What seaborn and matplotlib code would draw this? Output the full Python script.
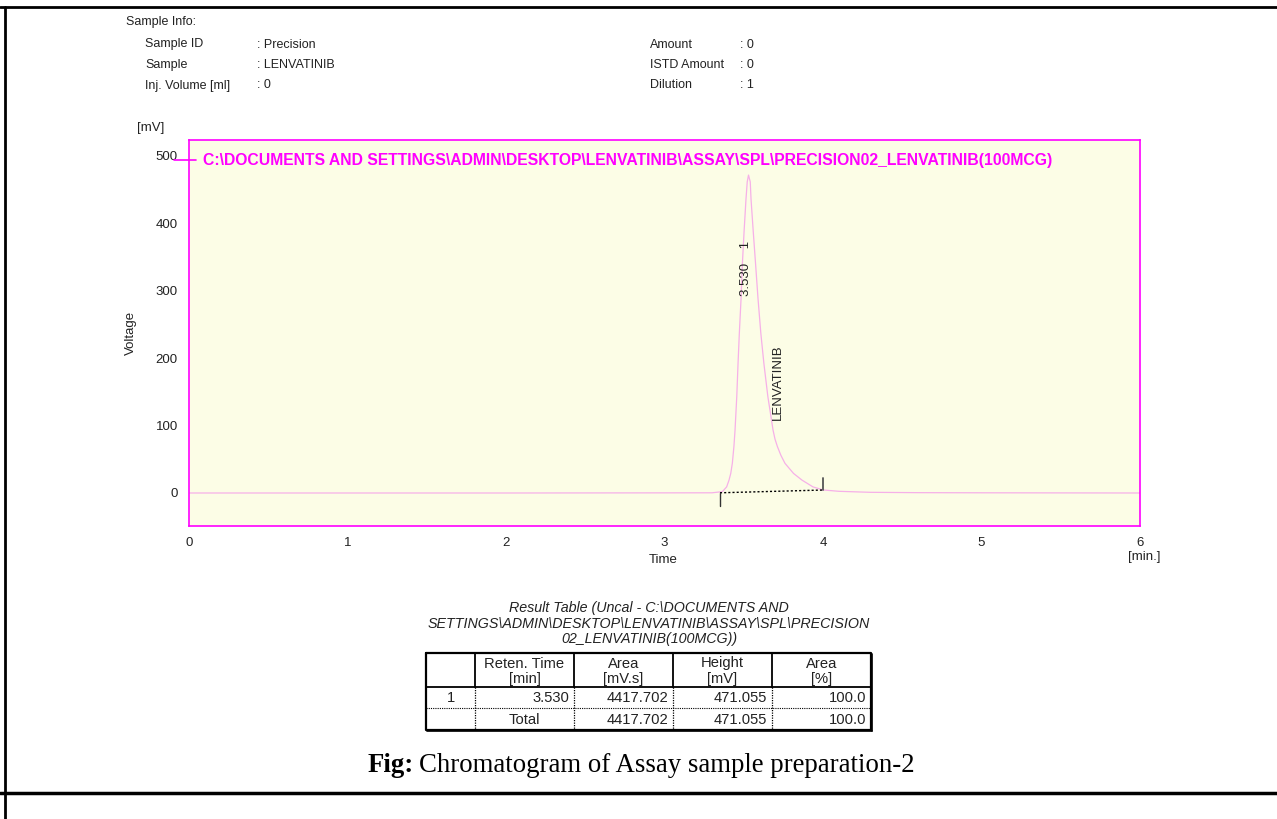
import matplotlib
matplotlib.use("Agg")
import matplotlib.pyplot as plt
from matplotlib.lines import Line2D
import pandas as pd
import seaborn as sns

# ---- chromatogram trace (time in min, signal in mV) ----
trace_time = [0.00, 1.00, 2.00, 3.00, 3.30, 3.365, 3.392, 3.407, 3.418, 3.428,
              3.438, 3.445, 3.456, 3.464, 3.472, 3.483, 3.491, 3.502, 3.514,
              3.522, 3.530, 3.541, 3.546, 3.560, 3.575, 3.590, 3.608, 3.627,
              3.652, 3.685, 3.697, 3.712, 3.734, 3.760, 3.814, 3.868, 3.937,
              4.002, 4.10, 4.30, 4.60, 5.00, 6.00]
trace_mv = [0.0, 0.0, 0.0, 0.2, 0.3, 2.0, 9.0, 19.0, 29.0, 44.0,
            69.0, 93.0, 143.0, 192.0, 236.0, 288.0, 338.0, 387.0, 435.0,
            461.0, 471.055, 461.0, 435.0, 387.0, 338.0, 288.0, 236.0, 192.0,
            143.0, 93.0, 80.0, 69.0, 56.0, 44.0, 29.0, 19.0, 9.0,
            4.5, 2.5, 1.0, 0.5, 0.3, 0.0]

# integration baseline of the peak (start, end)
base_time = [3.350, 4.002]
base_mv = [0.3, 4.4]

peak_rt = 3.530
peak_area = 4417.702
peak_height = 471.055
peak_area_pct = 100.0
peak_name = "LENVATINIB"
peak_number = "1"

x_ticks = [0, 1, 2, 3, 4, 5, 6]
y_ticks = [0, 100, 200, 300, 400, 500]

title_path = ("C:\\DOCUMENTS AND SETTINGS\\ADMIN\\DESKTOP\\LENVATINIB\\ASSAY\\SPL"
              "\\PRECISION02_LENVATINIB(100MCG)")

info_left_keys = ["Sample ID", "Sample", "Inj. Volume [ml]"]
info_left_vals = [": Precision", ": LENVATINIB", ": 0"]
info_right_keys = ["Amount", "ISTD Amount", "Dilution"]
info_right_vals = [": 0", ": 0", ": 1"]

table_title = ["Result Table (Uncal - C:\\DOCUMENTS AND",
               "SETTINGS\\ADMIN\\DESKTOP\\LENVATINIB\\ASSAY\\SPL\\PRECISION",
               "02_LENVATINIB(100MCG))"]
table_headers = ["", "Reten. Time\n[min]", "Area\n[mV.s]", "Height\n[mV]", "Area\n[%]"]

caption_bold = "Fig:"
caption_text = "Chromatogram of Assay sample preparation-2"

# ---- styling ----
sns.set_style("white")
plt.rcParams["font.family"] = ["Liberation Sans", "DejaVu Sans"]

MAGENTA = "#ff00ff"
TRACE = "#f6b0e8"
FACE = "#fcfde6"
TXT = "#222222"

W, H = 1277, 819
fig = plt.figure(figsize=(W / 100, H / 100), dpi=100)
fig.patch.set_facecolor("white")


def fx(x):
    return x / W


def fy(y):
    return 1 - y / H


def ftext(x, y, s, **kw):
    return fig.text(fx(x), fy(y), s, transform=fig.transFigure, **kw)


def fline(xs, ys, **kw):
    fig.add_artist(Line2D([fx(v) for v in xs], [fy(v) for v in ys],
                          transform=fig.transFigure, **kw))


# ---- page frame ----
fline([0, W], [7, 7], color="black", lw=2.0)
fline([5, 5], [7, H], color="black", lw=2.0)
fline([0, W], [793, 793], color="black", lw=2.5)

# ---- sample info header (baseline-aligned rows) ----
ftext(126, 24.5, "Sample Info:", fontsize=9, va="baseline", color=TXT)
for i, (k, v) in enumerate(zip(info_left_keys, info_left_vals)):
    ftext(145, 47.5 + 20.5 * i, k, fontsize=9, va="baseline", color=TXT)
    ftext(257, 47.5 + 20.5 * i, v, fontsize=9, va="baseline", color=TXT)
for i, (k, v) in enumerate(zip(info_right_keys, info_right_vals)):
    ftext(650, 47.5 + 20.5 * i, k, fontsize=9, va="baseline", color=TXT)
    ftext(740, 47.5 + 20.5 * i, v, fontsize=9, va="baseline", color=TXT)

# ---- chromatogram axes ----
ax = fig.add_axes([fx(189), fy(526), (1140 - 189) / W, (526 - 140) / H])
ax.set_facecolor(FACE)

df = pd.DataFrame({"Time": trace_time, "Voltage": trace_mv})
sns.lineplot(data=df, x="Time", y="Voltage", ax=ax, color=TRACE, lw=0.9,
             estimator=None, sort=False)

# integration baseline and its start/end markers
ax.plot(base_time, base_mv, color="black", lw=1.0, ls=(0, (1.5, 1.5)))
ax.plot([base_time[0], base_time[0]], [base_mv[0], base_mv[0] - 19],
        color="#333333", lw=1.0)
ax.plot([base_time[1], base_time[1]], [base_mv[1], base_mv[1] + 18],
        color="#555555", lw=1.3)

ax.set_xlim(0, 6)
ax.set_ylim(-48.9, 523)
ax.set_xticks(x_ticks)
ax.set_yticks(y_ticks)
ax.set_xticklabels([str(v) for v in x_ticks])
ax.set_yticklabels([str(v) for v in y_ticks])
ax.tick_params(axis="both", direction="out", length=6, width=1.0,
               color=MAGENTA, labelcolor=TXT, labelsize=9.5, pad=2)
for sp in ax.spines.values():
    sp.set_visible(True)
    sp.set_color(MAGENTA)
    sp.set_linewidth(1.2)

ax.set_xlabel("Time", fontsize=9.5, color=TXT)
ax.set_ylabel("Voltage", fontsize=9.5, color=TXT)
ax.yaxis.set_label_coords(-0.055, 0.5)
ax.xaxis.set_label_coords(0.499, -0.0725)

ax.text(-0.04, 1.03, "[mV]", transform=ax.transAxes, fontsize=9.5,
        color=TXT, ha="center", va="center")
ax.text(1.004, -0.08, "[min.]", transform=ax.transAxes, fontsize=9.5,
        color=TXT, ha="center", va="center")

# trace title with its colour key
ax.plot([-0.016, 0.0075], [0.948, 0.948], transform=ax.transAxes,
        color=MAGENTA, lw=1.2, clip_on=False)
ax.text(0.0147, 0.948, title_path, transform=ax.transAxes, fontsize=11.3,
        fontweight="bold", color=MAGENTA, ha="left", va="center")

# peak annotations
ax.text(peak_rt - 0.016, 292, f"{peak_rt:.3f}    {peak_number}", rotation=90,
        fontsize=9.5, color=TXT, ha="center", va="bottom")
ax.text(peak_rt + 0.186, 108, peak_name, rotation=90, fontsize=9.5,
        color=TXT, ha="center", va="bottom")

# ---- result table ----
for i, line in enumerate(table_title):
    ftext(649, 608 + 15.5 * i, line, fontsize=10.3, style="italic",
          ha="center", va="center", color=TXT)

cols = [426, 475, 574, 673, 772, 871]
rows = [653, 687, 708, 730]
TFS = 10.6

# outer border
fline([cols[0], cols[-1], cols[-1], cols[0], cols[0]],
      [rows[0], rows[0], rows[-1], rows[-1], rows[0]], color="black", lw=1.6)
fline([cols[0] + 1, cols[-1] + 1], [rows[-1] + 1, rows[-1] + 1], color="black", lw=1.2)
fline([cols[-1] + 1, cols[-1] + 1], [rows[0] + 1, rows[-1] + 1], color="black", lw=1.2)
# header separators, dotted data-row rules
fline([cols[0], cols[-1]], [rows[1], rows[1]], color="black", lw=1.3)
for c in cols[1:-1]:
    fline([c, c], [rows[0], rows[1]], color="black", lw=1.3)
    fline([c, c], [rows[1], rows[-1]], color="black", lw=0.9, ls=(0, (1, 1)))
fline([cols[0], cols[-1]], [rows[2], rows[2]], color="black", lw=0.8, ls=(0, (1, 1)))

for j, head in enumerate(table_headers):
    if not head:
        continue
    top, bottom = head.split("\n")
    cx = (cols[j] + cols[j + 1]) / 2
    ftext(cx, 667.5, top, fontsize=TFS, ha="center", va="baseline", color=TXT)
    ftext(cx, 683.5, bottom, fontsize=TFS, ha="center", va="baseline", color=TXT)

row_vals = [f"{peak_rt:.3f}", f"{peak_area:.3f}", f"{peak_height:.3f}", f"{peak_area_pct:.1f}"]
tot_vals = [f"{peak_area:.3f}", f"{peak_height:.3f}", f"{peak_area_pct:.1f}"]
ftext((cols[0] + cols[1]) / 2, 702.5, peak_number, fontsize=TFS, ha="center",
      va="baseline", color=TXT)
for j, v in enumerate(row_vals):
    ftext(cols[j + 2] - 5, 702.5, v, fontsize=TFS, ha="right", va="baseline", color=TXT)
ftext((cols[1] + cols[2]) / 2, 724, "Total", fontsize=TFS, ha="center",
      va="baseline", color=TXT)
for j, v in enumerate(tot_vals):
    ftext(cols[j + 3] - 5, 724, v, fontsize=TFS, ha="right", va="baseline", color=TXT)

# ---- caption ----
cap_kw = dict(fontsize=19.3, va="center", color="black",
              family=["Liberation Serif", "DejaVu Serif"])
t1 = ftext(368, 766, caption_bold, fontweight="bold", ha="left", **cap_kw)
fig.canvas.draw()
bb = t1.get_window_extent()
fig.text((bb.x1 + 5) / W, fy(766), caption_text, ha="left", **cap_kw)

fig.savefig("out.png", dpi=100, facecolor="white")
